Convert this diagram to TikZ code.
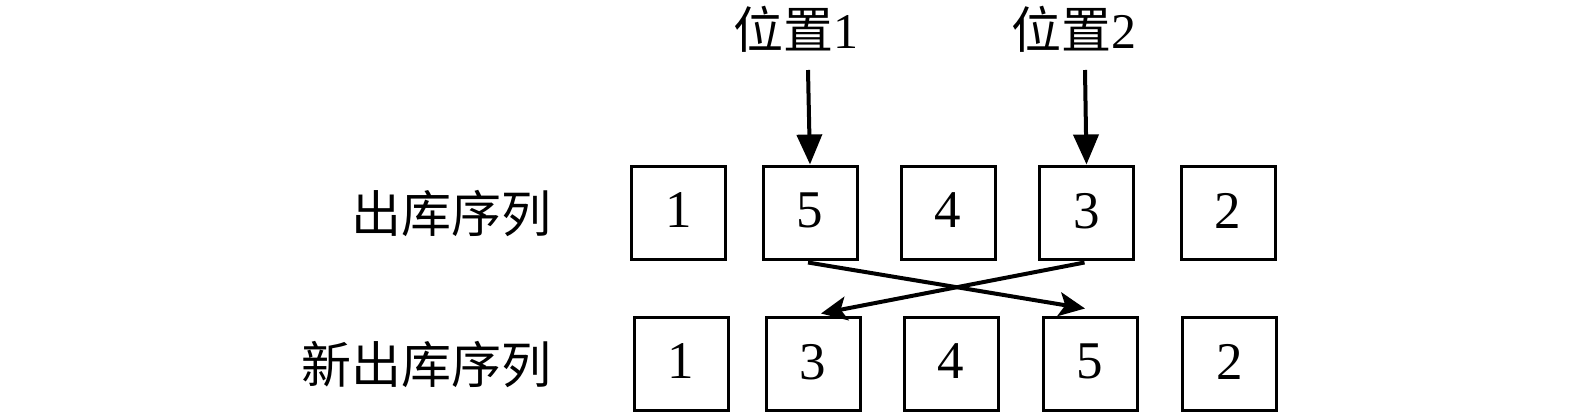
\documentclass[tikz,border=0pt]{standalone}
\usepackage{fontspec}
\setmainfont{Liberation Serif}
\newfontfamily\cjk{Noto Sans CJK SC}
\usetikzlibrary{arrows.meta,calc}
\begin{document}
\begin{tikzpicture}[x=0.5pt,y=-0.5pt,
  cell/.style={draw,line width=1.5pt,minimum width=47pt,minimum height=46.5pt,inner sep=0pt,font=\fontsize{26.5pt}{28pt}\selectfont},
  lbl/.style={inner sep=0pt,font=\fontsize{25pt}{27pt}\selectfont},
  downarr/.style={line width=2pt,-{Triangle[length=15pt,width=12.5pt]}},
  swaparr/.style={line width=2pt,-{Stealth[length=13pt,width=12pt,inset=3pt]}}]
\useasboundingbox (0,0) rectangle (1575,413);
% top row
\node[cell] (t1) at (678.5,212.5) {\raisebox{2pt}{1}};
\node[cell] (t2) at (810,212.5) {\raisebox{2pt}{5}};
\node[cell] (t3) at (948,212.5) {\raisebox{2pt}{4}};
\node[cell] (t4) at (1086.5,212.5) {\raisebox{2pt}{3}};
\node[cell] (t5) at (1228,212.5) {\raisebox{2pt}{2}};
% bottom row
\node[cell] (b1) at (681,363.5) {\raisebox{2pt}{1}};
\node[cell] (b2) at (813,363.5) {\raisebox{2pt}{3}};
\node[cell] (b3) at (951,363.5) {\raisebox{2pt}{4}};
\node[cell] (b4) at (1090,363.5) {\raisebox{2pt}{5}};
\node[cell] (b5) at (1229.5,363.5) {\raisebox{2pt}{2}};
% labels
\node[lbl,anchor=east] (l1) at (552,213) {\cjk 出库序列};
\node[lbl,anchor=east] (l2) at (552,364) {\cjk 新出库序列};
\node[lbl] (p1) at (796,29) {{\cjk 位置}1};
\node[lbl] (p2) at (1074,29) {{\cjk 位置}2};
% position arrows
\coordinate (a1) at (808,70);
\coordinate (a2) at (1085,70);
\draw[downarr] (a1) -- (t2.north);
\draw[downarr] (a2) -- (t4.north);
% swap arrows
\draw[swaparr] ($(t2.south)+(-2,2)$) -- ($(b4.north)+(-5,-7)$);
\draw[swaparr] ($(t4.south)+(-2,2)$) -- ($(b2.north)+(8,-2)$);
\end{tikzpicture}
\end{document}
